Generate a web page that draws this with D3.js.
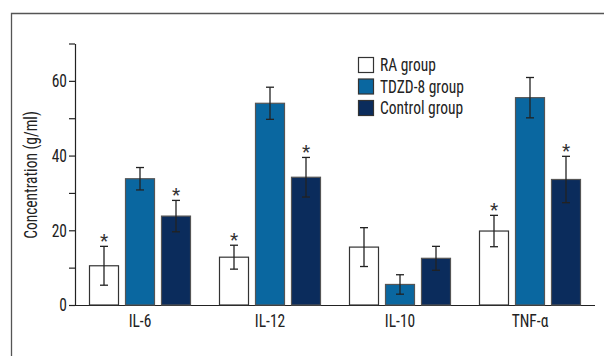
<!DOCTYPE html>
<html><head><meta charset="utf-8">
<script src="https://cdn.jsdelivr.net/npm/d3@7"></script>
<style>
body{margin:0;background:#fff;}
text{font-family:"Liberation Sans Narrow","Roboto Condensed","DejaVu Sans Condensed",sans-serif;}
</style></head>
<body><svg id="c" width="604" height="356"></svg>
<script>
const categories = ["IL-6","IL-12","IL-10","TNF-α"];
const seriesNames = ["RA group","TDZD-8 group","Control group"];
const raValues = [10.5, 12.8, 15.5, 19.8];
const raErrors = [5.2, 3.2, 5.2, 4.2];
const tdzdValues = [33.8, 54.0, 5.5, 55.5];
const tdzdErrors = [3.0, 4.3, 2.6, 5.4];
const controlValues = [23.8, 34.2, 12.5, 33.6];
const controlErrors = [4.2, 5.3, 3.2, 6.2];
const raStar = [true, true, false, true];
const tdzdStar = [false, false, false, false];
const controlStar = [true, true, false, true];
const yTicks = [0, 10, 20, 30, 40, 50, 60, 70];
const yTickLabels = ["0","","20","","40","","60",""];
const colors = ["#ffffff","#0a67a0","#0b2c5c"];

const series = [
  {name: seriesNames[0], values: raValues, errors: raErrors, stars: raStar},
  {name: seriesNames[1], values: tdzdValues, errors: tdzdErrors, stars: tdzdStar},
  {name: seriesNames[2], values: controlValues, errors: controlErrors, stars: controlStar}
];

const FS = 18, SQ = 0.86;
function squeeze(sel){
  sel.each(function(){
    const t = this.textContent;
    if(!t) return;
    const L = this.getComputedTextLength();
    if(L>0){ this.setAttribute("textLength", L*SQ); this.setAttribute("lengthAdjust","spacingAndGlyphs"); }
  });
}

const svg = d3.select("#c");
svg.append("path").attr("d","M11.5,356V13.5H604").attr("fill","none").attr("stroke","#555").attr("stroke-width",1.3);

const y = d3.scaleLinear().domain([0,70]).range([305,43.5]);
const x0 = d3.scaleBand().domain(categories).range([75,595]);
const x1 = d3.scaleBand().domain(seriesNames).range([14,116]).paddingInner(1/6);

const yAxis = d3.axisLeft(y).tickValues(yTicks).tickFormat((d,i)=>yTickLabels[i]).tickSize(6).tickSizeOuter(0);
const gy = svg.append("g").attr("transform","translate(75,0)").call(yAxis);
gy.select(".domain").attr("stroke","#222").attr("stroke-width",1.2);
gy.selectAll(".tick line").attr("stroke","#222").attr("stroke-width",1.2);
gy.selectAll(".tick text").attr("font-size",FS).attr("font-family",null).attr("fill","#222").attr("x",-8).call(squeeze);

const xAxis = d3.axisBottom(x0).tickSize(0).tickSizeOuter(0);
const gx = svg.append("g").attr("transform","translate(0,305)").call(xAxis);
gx.select(".domain").attr("stroke","#222").attr("stroke-width",1.2).attr("d","M69,0.5H595");
gx.selectAll(".tick text").attr("font-size",FS).attr("font-family",null).attr("fill","#222").attr("dy","1.05em").call(squeeze);
gy.attr("font-family",null); gx.attr("font-family",null);

svg.append("text").attr("transform","translate(37,175) rotate(-90)").attr("text-anchor","middle")
  .attr("font-size",FS).attr("fill","#222").text("Concentration (g/ml)").call(squeeze);

series.forEach((s,si)=>{
  const g = svg.append("g");
  categories.forEach((c,ci)=>{
    const bx = x0(c) + x1(s.name);
    const bw = x1.bandwidth();
    const v = s.values[ci], e = s.errors[ci];
    g.append("rect").attr("x",bx+0.5).attr("y",y(v)).attr("width",bw-1).attr("height",y(0)-y(v))
      .attr("fill",colors[si]).attr("stroke", si===0?"#333":"#555").attr("stroke-width",1.2);
    const cx = bx + bw/2;
    g.append("line").attr("x1",cx).attr("x2",cx).attr("y1",y(v+e)).attr("y2",y(v-e)).attr("stroke","#222").attr("stroke-width",1.3);
    [v+e, v-e].forEach(t=>{
      g.append("line").attr("x1",cx-4).attr("x2",cx+4).attr("y1",y(t)).attr("y2",y(t)).attr("stroke","#222").attr("stroke-width",1.3);
    });
    if (s.stars[ci]) {
      g.append("text").attr("x",cx).attr("y",y(v+e)+1).attr("text-anchor","middle").attr("font-size",19).attr("fill","#333").text("*");
    }
  });
});

const leg = svg.append("g").attr("transform","translate(358,57)");
seriesNames.forEach((n,i)=>{
  const row = leg.append("g").attr("transform",`translate(0,${i*21.5})`);
  row.append("rect").attr("x",0.5).attr("y",0.5).attr("width",15).attr("height",15)
    .attr("fill",colors[i]).attr("stroke","#333").attr("stroke-width",1.2);
  row.append("text").attr("x",22).attr("y",14).attr("font-size",FS).attr("fill","#222").text(n).call(squeeze);
});
</script></body></html>
